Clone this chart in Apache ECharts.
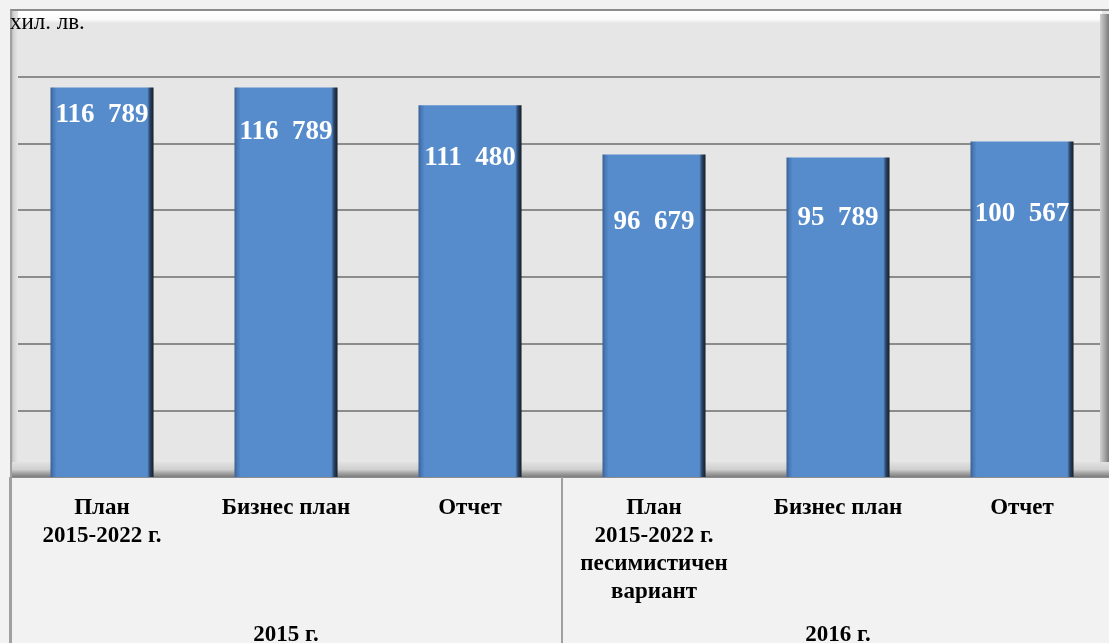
<!DOCTYPE html>
<html>
<head>
<meta charset="utf-8">
<script src="https://cdn.jsdelivr.net/npm/echarts@6/dist/echarts.min.js"></script>
<style>
  html, body { margin: 0; padding: 0; background: #f2f2f2; }
  #chart { width: 1109px; height: 643px; }
</style>
</head>
<body>
<div id="chart"></div>
<script>
  // данни
  var categories = ['План\n2015-2022 г.', 'Бизнес план', 'Отчет',
    'План\n2015-2022 г.\nпесимистичен\nвариант', 'Бизнес план', 'Отчет']
  var values = [116789, 116789, 111480, 96679, 95789, 100567]
  var groups = ['2015 г.', '2016 г.']
  var unitLabel = 'хил. лв.'

  // ръчно поставени етикети (отместване надолу)
  var labelDy = [14, 31, 39, 54, 47, 59]

  function fmt (v) {
    var s = String(v)
    return s.slice(0, s.length - 3) + '  ' + s.slice(-3)
  }

  var barColor = new echarts.graphic.LinearGradient(0, 0, 1, 0, [
    {offset: 0, color: '#3a6294'},
    {offset: 0.03, color: '#4a7bb8'},
    {offset: 0.06, color: '#568bcc'},
    {offset: 0.94, color: '#568bcc'},
    {offset: 0.965, color: '#2a4466'},
    {offset: 1, color: '#141d29'}
  ])

  var seriesData = []
  for (var i = 0; i < values.length; i++) {
    seriesData.push({
      value: values[i],
      label: {offset: [0, labelDy[i]]}
    })
  }

  var chart = echarts.init(document.getElementById('chart'))
  chart.setOption({
    backgroundColor: '#f2f2f2',
    animation: false,
    grid: {
      left: 10,
      top: 10,
      width: 1104,
      height: 467,
      show: true,
      backgroundColor: '#e6e6e6',
      borderWidth: 0,
      containLabel: false,
      outerBoundsMode: 'none'
    },
    xAxis: [{
      type: 'category',
      data: categories,
      axisLine: {show: false},
      axisTick: {show: false},
      axisLabel: {
        interval: 0,
        margin: 17,
        fontFamily: 'Liberation Serif',
        fontWeight: 'bold',
        fontSize: 23,
        lineHeight: 28,
        color: '#000',
        align: 'center',
        verticalAlign: 'top'
      }
    }, {
      type: 'category',
      position: 'bottom',
      data: groups,
      axisLine: {show: false},
      axisTick: {
        show: true,
        length: 170,
        lineStyle: {color: '#a0a0a0', width: 2}
      },
      axisLabel: {
        interval: 0,
        margin: 147,
        fontFamily: 'Liberation Serif',
        fontWeight: 'bold',
        fontSize: 23,
        color: '#000',
        verticalAlign: 'top'
      }
    }],
    yAxis: {
      type: 'value',
      min: 0,
      max: 140000,
      interval: 20000,
      axisLine: {show: false},
      axisTick: {show: false},
      axisLabel: {show: false},
      splitLine: {lineStyle: {color: '#8c8c8c', width: 2}}
    },
    series: [{
      type: 'bar',
      data: seriesData,
      barWidth: '56%',
      z: 3,
      itemStyle: {
        color: barColor
      },
      label: {
        show: true,
        position: 'insideTop',
        distance: 0,
        formatter: function (p) { return fmt(p.value) },
        fontFamily: 'Liberation Serif',
        fontWeight: 'bold',
        fontSize: 27,
        color: '#fff'
      }
    }],
    graphic: [
      // горна светла ивица
      {type: 'rect', z: 1, shape: {x: 12, y: 11, width: 1090, height: 12},
        style: {fill: new echarts.graphic.LinearGradient(0, 0, 0, 1, [
          {offset: 0, color: '#ffffff'}, {offset: 0.7, color: '#fbfbfb'}, {offset: 1, color: '#e6e6e6'}])}},
      // лява стена
      {type: 'rect', z: 1, shape: {x: 11, y: 11, width: 7, height: 466},
        style: {fill: new echarts.graphic.LinearGradient(0, 0, 1, 0, [
          {offset: 0, color: '#b0b0b0'}, {offset: 0.4, color: '#d4d4d4'}, {offset: 1, color: '#e6e6e6'}])}},
      // дясна стена
      {type: 'rect', z: 1, shape: {x: 1100, y: 14, width: 9, height: 463},
        style: {fill: new echarts.graphic.LinearGradient(0, 0, 1, 0, [
          {offset: 0, color: '#d0d0d0'}, {offset: 0.5, color: '#a8a8a8'}, {offset: 1, color: '#7a7a7a'}])}},
      // под
      {type: 'rect', z: 1, shape: {x: 11, y: 462, width: 1098, height: 15},
        style: {fill: new echarts.graphic.LinearGradient(0, 0, 0, 1, [
          {offset: 0, color: '#e2e2e2'}, {offset: 0.5, color: '#cfcfcf'}, {offset: 0.8, color: '#9a9a9a'}, {offset: 1, color: '#7c7c7c'}])}},
      // рамка горе и вляво
      {type: 'line', z: 1, shape: {x1: 10, y1: 10, x2: 1109, y2: 10},
        style: {stroke: '#8c8c8c', lineWidth: 2}},
      {type: 'line', z: 1, shape: {x1: 11, y1: 10, x2: 11, y2: 643},
        style: {stroke: '#a0a0a0', lineWidth: 2}},
      {type: 'text', z: 5, left: 10, top: 11,
        style: {text: unitLabel, font: '23px "Liberation Serif"', fill: '#000'}}
    ]
  })
</script>
</body>
</html>
